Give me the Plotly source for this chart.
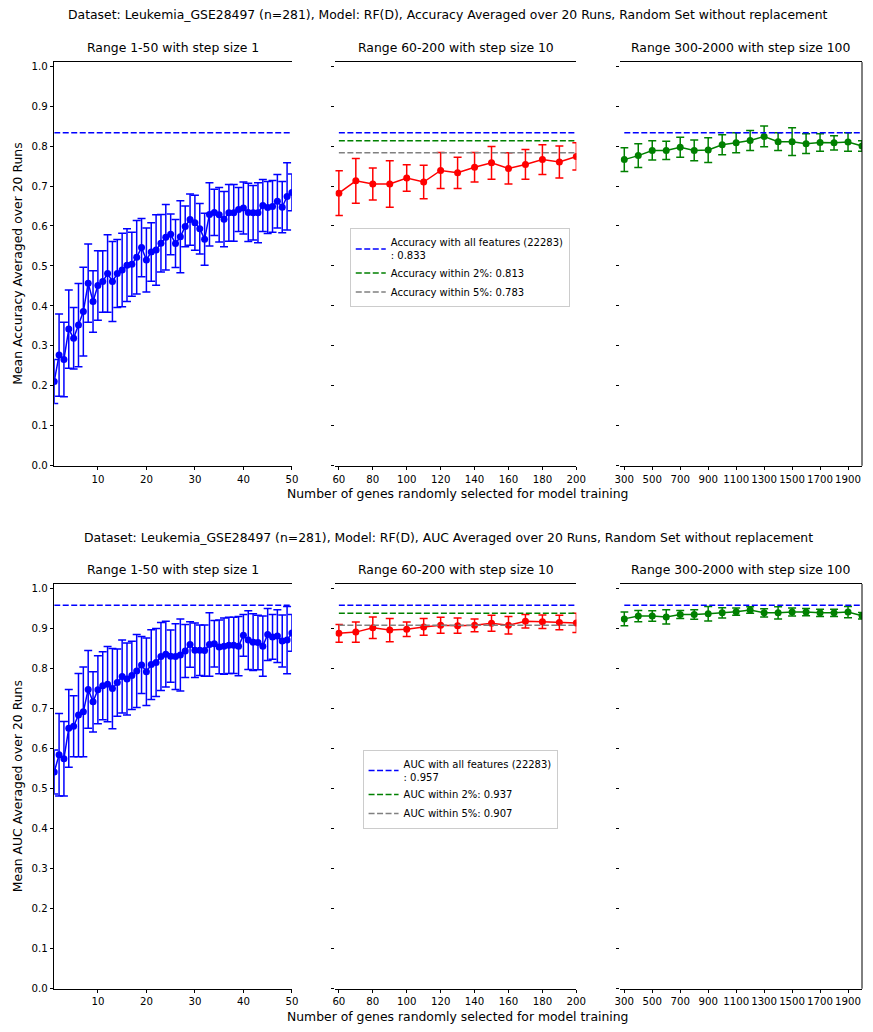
import plotly.graph_objects as go

# ---- data -------------------------------------------------------------
n_features = 22283

x_small = list(range(1, 51))
x_mid = list(range(60, 201, 10))
x_large = list(range(300, 2001, 100))

acc_small_mean = [0.211, 0.277, 0.266, 0.342, 0.319, 0.352, 0.386, 0.457, 0.411, 0.451,
                  0.461, 0.481, 0.461, 0.481, 0.490, 0.502, 0.504, 0.522, 0.546, 0.515,
                  0.535, 0.540, 0.557, 0.572, 0.579, 0.556, 0.573, 0.599, 0.616, 0.608,
                  0.593, 0.567, 0.629, 0.634, 0.628, 0.617, 0.633, 0.633, 0.641, 0.645,
                  0.634, 0.633, 0.633, 0.651, 0.646, 0.649, 0.662, 0.647, 0.674, 0.684]
acc_small_err = [0.055, 0.103, 0.093, 0.098, 0.077, 0.104, 0.111, 0.098, 0.077, 0.087,
                 0.077, 0.097, 0.100, 0.085, 0.092, 0.091, 0.080, 0.092, 0.073, 0.080,
                 0.073, 0.088, 0.072, 0.082, 0.051, 0.060, 0.090, 0.051, 0.064, 0.069,
                 0.063, 0.065, 0.079, 0.058, 0.068, 0.069, 0.071, 0.071, 0.055, 0.065,
                 0.073, 0.068, 0.075, 0.065, 0.065, 0.065, 0.067, 0.064, 0.084, 0.046]

acc_mid_mean = [0.682, 0.713, 0.705, 0.705, 0.720, 0.710, 0.739, 0.733, 0.747, 0.758,
                0.744, 0.754, 0.766, 0.760, 0.774]
acc_mid_err = [0.056, 0.056, 0.040, 0.058, 0.033, 0.042, 0.045, 0.039, 0.037, 0.041,
               0.039, 0.037, 0.037, 0.040, 0.034]

acc_large_mean = [0.766, 0.776, 0.789, 0.789, 0.797, 0.789, 0.790, 0.803, 0.808, 0.814,
                  0.824, 0.811, 0.811, 0.806, 0.809, 0.808, 0.810, 0.800]
acc_large_err = [0.030, 0.030, 0.024, 0.023, 0.025, 0.026, 0.031, 0.025, 0.025, 0.025,
                 0.026, 0.022, 0.035, 0.025, 0.022, 0.018, 0.023, 0.013]

auc_small_mean = [0.541, 0.584, 0.574, 0.650, 0.655, 0.683, 0.691, 0.747, 0.716, 0.746,
                  0.756, 0.760, 0.749, 0.764, 0.779, 0.773, 0.782, 0.793, 0.808, 0.791,
                  0.809, 0.814, 0.829, 0.835, 0.830, 0.829, 0.833, 0.843, 0.859, 0.845,
                  0.845, 0.844, 0.859, 0.861, 0.853, 0.855, 0.857, 0.857, 0.855, 0.882,
                  0.870, 0.865, 0.864, 0.855, 0.884, 0.878, 0.880, 0.868, 0.870, 0.888]
auc_small_err = [0.055, 0.103, 0.093, 0.097, 0.076, 0.104, 0.112, 0.097, 0.075, 0.085,
                 0.085, 0.094, 0.100, 0.084, 0.091, 0.090, 0.085, 0.091, 0.071, 0.084,
                 0.087, 0.085, 0.085, 0.082, 0.065, 0.082, 0.090, 0.066, 0.057, 0.068,
                 0.063, 0.064, 0.079, 0.058, 0.067, 0.070, 0.070, 0.070, 0.074, 0.052,
                 0.073, 0.071, 0.068, 0.075, 0.065, 0.056, 0.066, 0.065, 0.084, 0.046]

auc_mid_mean = [0.887, 0.890, 0.901, 0.895, 0.897, 0.903, 0.907, 0.906, 0.907, 0.912,
                0.907, 0.917, 0.916, 0.914, 0.913]
auc_mid_err = [0.022, 0.025, 0.027, 0.029, 0.018, 0.021, 0.020, 0.019, 0.016, 0.020,
               0.022, 0.017, 0.017, 0.018, 0.024]

auc_large_mean = [0.923, 0.930, 0.930, 0.928, 0.934, 0.934, 0.936, 0.938, 0.941, 0.945,
                  0.938, 0.938, 0.940, 0.940, 0.938, 0.938, 0.940, 0.931]
auc_large_err = [0.017, 0.014, 0.013, 0.018, 0.010, 0.012, 0.018, 0.013, 0.009, 0.008,
                 0.010, 0.015, 0.010, 0.009, 0.009, 0.009, 0.014, 0.008]

acc_all, acc_2pct, acc_5pct = 0.833, 0.813, 0.783
auc_all, auc_2pct, auc_5pct = 0.957, 0.937, 0.907

panel_titles = ["Range 1-50 with step size 1",
                "Range 60-200 with step size 10",
                "Range 300-2000 with step size 100"]
x_tickvals = [[10, 20, 30, 40, 50],
              [60, 80, 100, 120, 140, 160, 180, 200],
              [300, 500, 700, 900, 1100, 1300, 1500, 1700, 1900]]
y_tickvals = [0.0, 0.1, 0.2, 0.3, 0.4, 0.5, 0.6, 0.7, 0.8, 0.9, 1.0]

# ---- geometry ---------------------------------------------------------
W, H = 873, 1032
FONT = "DejaVu Sans"
TITLE_SIZE = 12.4
col_px = [(52.0, 293.3), (337.5, 582.0), (626.7, 872.0)]
row_px = [(61.5, 468.0), (587.0, 994.5)]
x_ranges = [[1, 50], [58, 200], [272, 2000]]
y_range = [0, 1.01]

def px_x(p):
    return p / W

def px_y(p):
    return 1 - p / H

fig = go.Figure()

rows = [
    dict(metric="Accuracy", ylabel="Mean Accuracy Averaged over 20 Runs",
         means=[acc_small_mean, acc_mid_mean, acc_large_mean],
         errs=[acc_small_err, acc_mid_err, acc_large_err],
         ref=(acc_all, acc_2pct, acc_5pct), legend="legend"),
    dict(metric="AUC", ylabel="Mean AUC Averaged over 20 Runs",
         means=[auc_small_mean, auc_mid_mean, auc_large_mean],
         errs=[auc_small_err, auc_mid_err, auc_large_err],
         ref=(auc_all, auc_2pct, auc_5pct), legend="legend2"),
]
xs = [x_small, x_mid, x_large]
series_colors = ["#0000ff", "#ff0000", "#008000"]

annotations = []
shapes = []
layout_axes = {}

for r, row in enumerate(rows):
    full, p2, p5 = row["ref"]
    for c in range(3):
        k = r * 3 + c + 1
        xa = "x" if k == 1 else f"x{k}"
        ya = "y" if k == 1 else f"y{k}"
        xs_c = xs[c]

        # mean with error bars
        fig.add_trace(go.Scatter(
            x=xs_c, y=row["means"][c], xaxis=xa, yaxis=ya,
            mode="lines+markers", showlegend=False,
            line=dict(color=series_colors[c], width=1.5),
            marker=dict(color=series_colors[c], size=7),
            error_y=dict(type="data", array=row["errs"][c], visible=True,
                         color=series_colors[c], thickness=1.5, width=4),
        ))

        # reference lines
        refs = [(full, "#0000ff", f"{row['metric']} with all features ({n_features})<br>: {full:.3f}")]
        if c == 1:
            refs += [(p2, "#008000", f"{row['metric']} within 2%: {p2:.3f}"),
                     (p5, "#808080", f"{row['metric']} within 5%: {p5:.3f}")]
        for val, col, name in refs:
            fig.add_trace(go.Scatter(
                x=[xs_c[0], xs_c[-1]], y=[val, val], xaxis=xa, yaxis=ya,
                mode="lines", name=name, showlegend=(c == 1),
                legend=row["legend"],
                line=dict(color=col, width=1.5, dash="6px,2.5px"),
            ))

        x0, x1 = col_px[c]
        yt, yb = row_px[r]
        xkey = "xaxis" if k == 1 else f"xaxis{k}"
        ykey = "yaxis" if k == 1 else f"yaxis{k}"
        layout_axes[xkey] = dict(
            domain=[px_x(x0), px_x(x1)], anchor=ya, range=x_ranges[c],
            showline=True, mirror=True, linecolor="#000", linewidth=1,
            showgrid=False, zeroline=False,
            tickmode="array", tickvals=x_tickvals[c],
            ticks="outside", ticklen=3.5, tickwidth=1, tickcolor="#000",
            tickfont=dict(family=FONT, size=10.2, color="#000"),
        )
        layout_axes[ykey] = dict(
            domain=[px_y(yb), px_y(yt)], anchor=xa, range=y_range,
            showline=(c == 0), linecolor="#000", linewidth=1,
            showgrid=False, zeroline=False,
            tickmode="array", tickvals=y_tickvals, tickformat=".1f",
            ticks="outside", ticklen=3.5, tickwidth=1, tickcolor="#000",
            showticklabels=(c == 0),
            tickfont=dict(family=FONT, size=10.2, color="#000"),
        )

        # panel title
        annotations.append(dict(
            text=panel_titles[c], xref="paper", yref="paper",
            x=px_x((x0 + x1) / 2), y=px_y(yt - 5), xanchor="center", yanchor="bottom",
            showarrow=False, font=dict(family=FONT, size=TITLE_SIZE, color="#000"),
        ))

    # right-hand spine of the last panel in the row
    k3 = r * 3 + 3
    shapes.append(dict(type="line", xref=f"x{k3} domain", yref=f"y{k3} domain",
                       x0=1, x1=1, y0=0, y1=1, line=dict(color="#000", width=1)))

    yt, yb = row_px[r]
    # y axis label
    annotations.append(dict(
        text=row["ylabel"], xref="paper", yref="paper",
        x=px_x(15), y=px_y((yt + yb) / 2), xanchor="center", yanchor="middle",
        textangle=-90, showarrow=False, font=dict(family=FONT, size=TITLE_SIZE, color="#000"),
    ))
    # x axis label
    annotations.append(dict(
        text="Number of genes randomly selected for model training",
        xref="paper", yref="paper", x=px_x(461), y=px_y(yb + 28),
        xanchor="center", yanchor="middle", showarrow=False,
        font=dict(family=FONT, size=TITLE_SIZE, color="#000"),
    ))
    # figure title
    annotations.append(dict(
        text=(f"Dataset: Leukemia_GSE28497 (n=281), Model: RF(D), {row['metric']} "
              "Averaged over 20 Runs, Random Set without replacement"),
        xref="paper", yref="paper", x=px_x(452), y=px_y(14 if r == 0 else 540),
        xanchor="center", yanchor="middle", showarrow=False,
        font=dict(family=FONT, size=TITLE_SIZE, color="#000"),
    ))

legend_style = dict(
    xanchor="left", yanchor="top", bgcolor="rgba(255,255,255,0.8)",
    bordercolor="#cccccc", borderwidth=1,
    font=dict(family=FONT, size=10, color="#000"),
    itemwidth=30, tracegroupgap=0,
)

fig.update_layout(
    width=W, height=H, autosize=False,
    margin=dict(l=0, r=0, t=0, b=0),
    paper_bgcolor="white", plot_bgcolor="white",
    font=dict(family=FONT, size=10, color="#000"),
    annotations=annotations, shapes=shapes,
    legend=dict(x=px_x(352), y=px_y(229), **legend_style),
    legend2=dict(x=px_x(365), y=px_y(754), **legend_style),
    **layout_axes,
)

fig.write_html("out.html")
